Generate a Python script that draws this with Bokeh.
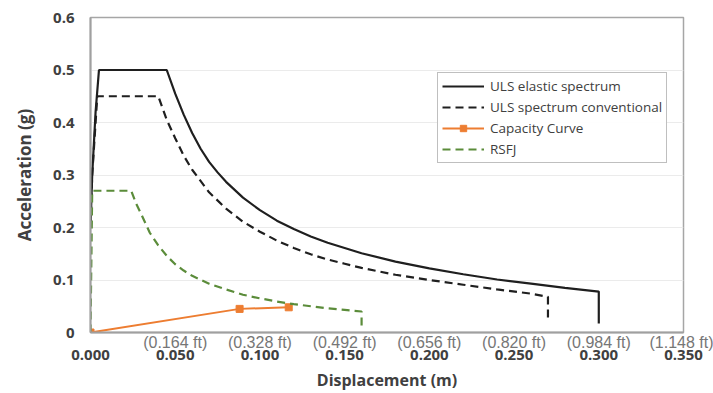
from bokeh.plotting import figure
from bokeh.models import (Legend, LegendItem, LinearAxis, FixedTicker, Range1d,
                          NumeralTickFormatter)
from bokeh.embed import file_html
from bokeh.resources import INLINE

# ---- data ----
elastic_x = [0.0, 0.001, 0.003, 0.005, 0.045, 0.05, 0.055, 0.06, 0.065, 0.07, 0.075,
             0.08, 0.09, 0.1, 0.11, 0.12, 0.13, 0.14, 0.15, 0.16, 0.18, 0.2, 0.22,
             0.24, 0.26, 0.28, 0.3, 0.3]
elastic_y = [0.2, 0.3, 0.42, 0.5, 0.5, 0.455, 0.415, 0.38, 0.35, 0.325, 0.305,
             0.287, 0.257, 0.233, 0.213, 0.197, 0.183, 0.171, 0.161, 0.151, 0.135,
             0.122, 0.111, 0.101, 0.093, 0.085, 0.078, 0.017]

conv_x = [0.0, 0.001, 0.003, 0.004, 0.04, 0.045, 0.05, 0.055, 0.06, 0.07, 0.08,
          0.09, 0.1, 0.11, 0.12, 0.13, 0.14, 0.15, 0.16, 0.18, 0.2, 0.22, 0.24,
          0.26, 0.27, 0.27]
conv_y = [0.2, 0.3, 0.4, 0.45, 0.45, 0.405, 0.37, 0.337, 0.31, 0.267, 0.236,
          0.211, 0.192, 0.175, 0.161, 0.149, 0.139, 0.131, 0.123, 0.11, 0.1, 0.091,
          0.082, 0.074, 0.068, 0.025]

cap_x = [0.0, 0.088, 0.117]
cap_y = [0.0, 0.045, 0.048]

rsfj_x = [0.0, 0.001, 0.024, 0.027, 0.03, 0.035, 0.04, 0.045, 0.05, 0.055, 0.06,
          0.07, 0.08, 0.09, 0.1, 0.11, 0.12, 0.13, 0.14, 0.15, 0.16, 0.16]
rsfj_y = [0.0, 0.27, 0.27, 0.245, 0.225, 0.19, 0.166, 0.146, 0.13, 0.118, 0.108,
          0.093, 0.082, 0.072, 0.065, 0.059, 0.054, 0.05, 0.046, 0.043, 0.04, 0.005]

x_ticks = [0.0, 0.05, 0.1, 0.15, 0.2, 0.25, 0.3, 0.35]
ft_labels = ["", "(0.164 ft)", "(0.328 ft)", "(0.492 ft)", "(0.656 ft)",
             "(0.820 ft)", "(0.984 ft)", "(1.148 ft)"]
y_ticks = [0.0, 0.1, 0.2, 0.3, 0.4, 0.5, 0.6]
y_labels = ["0", "0.1", "0.2", "0.3", "0.4", "0.5", "0.6"]

series_names = ["ULS elastic spectrum", "ULS spectrum conventional", "Capacity Curve", "RSFJ"]

FONT = "Open Sans"
TXT = "#404040"

p = figure(width=713, height=393, output_backend="svg", toolbar_location=None,
           x_range=Range1d(0, 0.35), y_range=Range1d(0, 0.6),
           x_axis_location=None, y_axis_location=None,
           min_border_left=90, min_border_right=30, min_border_top=17,
           min_border_bottom=61)
p.background_fill_color = "white"
p.border_fill_color = "white"
p.outline_line_color = "#a6a6a6"
p.outline_line_width = 1.5

# y axis
ya = LinearAxis(ticker=FixedTicker(ticks=y_ticks),
                major_label_overrides={t: l for t, l in zip(y_ticks, y_labels)})
ya.axis_label = "Acceleration (g)"
ya.axis_label_text_font = FONT
ya.axis_label_text_font_style = "bold"
ya.axis_label_text_font_size = "17px"
ya.axis_label_text_color = TXT
ya.axis_label_standoff = 14
ya.major_label_text_font = FONT
ya.major_label_text_font_style = "bold"
ya.major_label_text_font_size = "15px"
ya.major_label_text_color = TXT
ya.major_label_standoff = 16
ya.major_tick_out = 0
ya.major_tick_in = 0
ya.minor_tick_out = 0
ya.minor_tick_in = 0
ya.axis_line_color = "#a0a0a0"
ya.axis_line_width = 2
p.add_layout(ya, "left")

# ft axis (closest to plot)
fa = LinearAxis(ticker=FixedTicker(ticks=x_ticks),
                major_label_overrides={t: l for t, l in zip(x_ticks, ft_labels)})
fa.major_label_text_font = "Liberation Sans"
fa.major_label_text_font_size = "16px"
fa.major_label_text_color = "#767676"
fa.major_label_standoff = 1
fa.major_tick_out = 0
fa.major_tick_in = 0
fa.minor_tick_out = 0
fa.minor_tick_in = 0
fa.axis_line_color = "#a0a0a0"
fa.axis_line_width = 2
p.add_layout(fa, "below")

# main x axis
xa = LinearAxis(ticker=FixedTicker(ticks=x_ticks),
                formatter=NumeralTickFormatter(format="0.000"))
xa.axis_label = "Displacement (m)"
xa.axis_label_text_font = FONT
xa.axis_label_text_font_style = "bold"
xa.axis_label_text_font_size = "16px"
xa.axis_label_text_color = TXT
xa.axis_label_standoff = 6
xa.major_label_text_font = FONT
xa.major_label_text_font_style = "bold"
xa.major_label_text_font_size = "15px"
xa.major_label_text_color = TXT
xa.major_label_standoff = -4
xa.major_tick_out = 0
xa.major_tick_in = 0
xa.minor_tick_out = 0
xa.minor_tick_in = 0
xa.axis_line_color = None
p.add_layout(xa, "below")

p.xgrid.visible = False
p.ygrid.ticker = FixedTicker(ticks=y_ticks)
p.ygrid.grid_line_color = "#ebebeb"
p.ygrid.grid_line_width = 1

r1 = p.line(elastic_x, elastic_y, line_color="#1f1f1f", line_width=2.2)
r2 = p.line(conv_x, conv_y, line_color="#1f1f1f", line_width=2.2, line_dash="8 5")
r3 = p.line(cap_x, cap_y, line_color="#ED7D31", line_width=2)
r3m = p.scatter(cap_x, cap_y, marker="square", size=7, fill_color="#ED7D31",
                line_color="#ED7D31")
r4 = p.line(rsfj_x, rsfj_y, line_color="#5B8C3A", line_width=2.2, line_dash="8 5")

legend = Legend(items=[
    LegendItem(label=series_names[0], renderers=[r1]),
    LegendItem(label=series_names[1], renderers=[r2]),
    LegendItem(label=series_names[2], renderers=[r3, r3m]),
    LegendItem(label=series_names[3], renderers=[r4]),
], location=(347, 169))
legend.label_text_font = FONT
legend.label_text_font_size = "13.5px"
legend.label_text_color = TXT
legend.glyph_width = 42
legend.glyph_height = 16
legend.label_height = 16
legend.spacing = 3
legend.padding = 4
legend.margin = 0
legend.label_standoff = 6
legend.border_line_color = "#808080"
legend.border_line_width = 1.5
legend.background_fill_color = "white"
p.add_layout(legend, "center")

open("out.html", "w").write(file_html(p, INLINE))
